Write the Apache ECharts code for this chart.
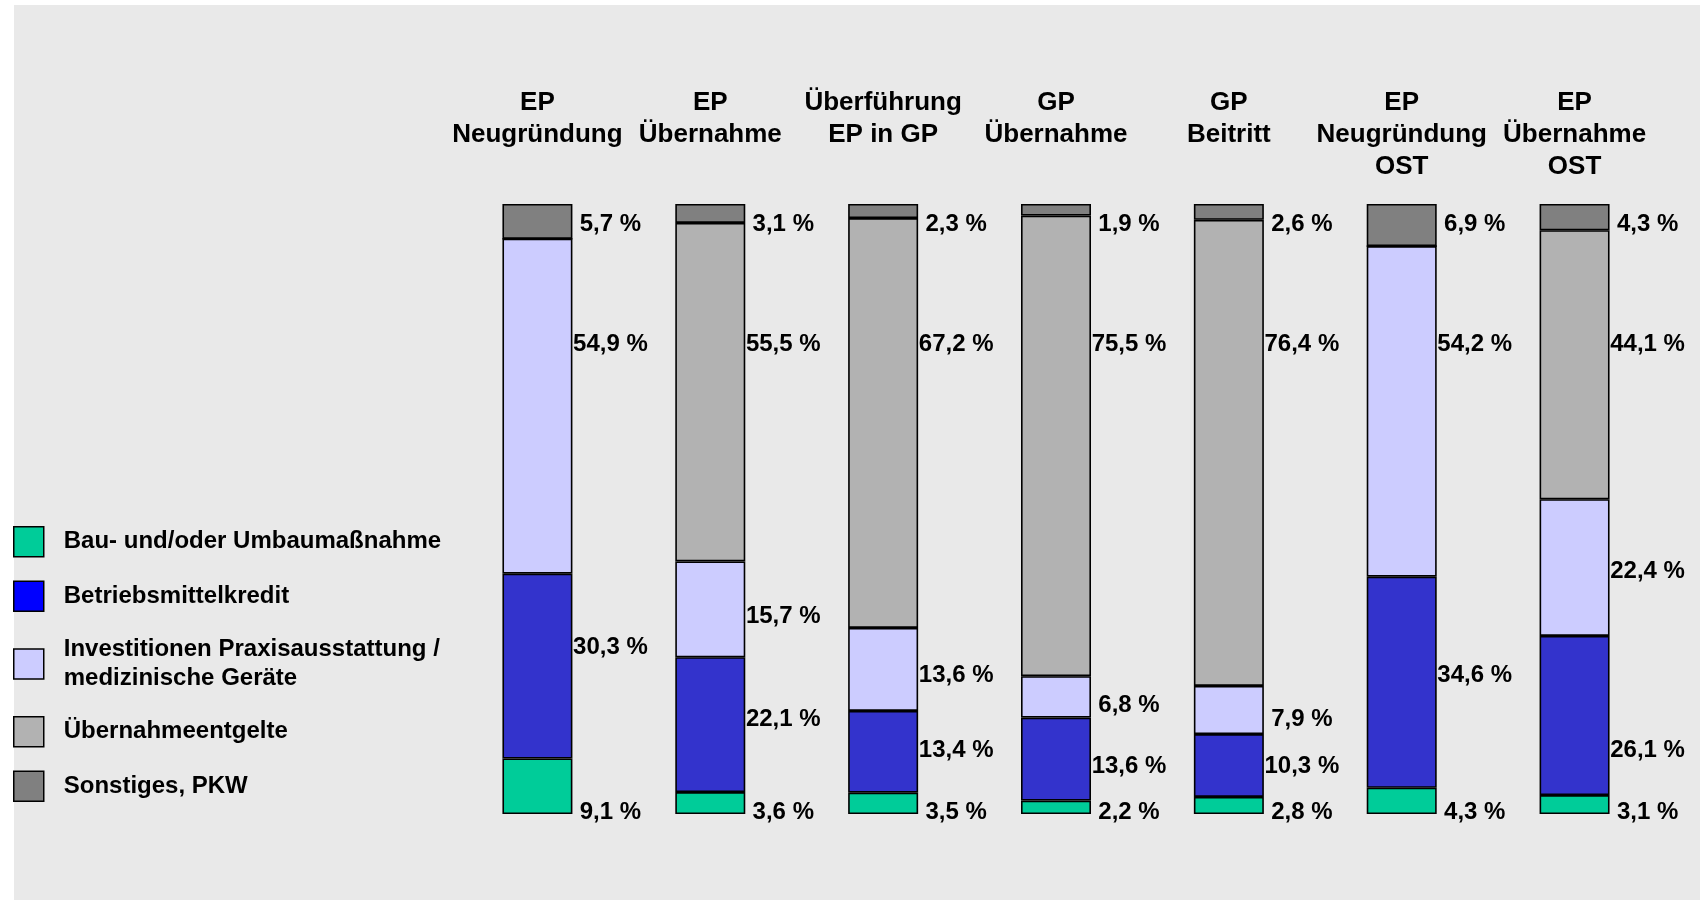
<!DOCTYPE html>
<html>
<head>
<meta charset="utf-8">
<script src="https://cdn.jsdelivr.net/npm/echarts@6/dist/echarts.min.js"></script>
<style>
  html, body { margin: 0; padding: 0; background: #ffffff; }
  #bg { position: absolute; left: 14px; top: 5px; width: 1686px; height: 895px; background: #E9E9E9; }
  #chart { position: absolute; left: 0; top: 0; width: 1700px; height: 900px; }
</style>
</head>
<body>
<div id="bg"></div>
<div id="chart"></div>
<script>
// ---- data ----
const categories = [
  'EP\nNeugründung',
  'EP\nÜbernahme',
  'Überführung\nEP in GP',
  'GP\nÜbernahme',
  'GP\nBeitritt',
  'EP\nNeugründung\nOST',
  'EP\nÜbernahme\nOST'
];
const seriesNames = [
  'Bau- und/oder Umbaumaßnahme',
  'Betriebsmittelkredit',
  'Investitionen Praxisausstattung /\nmedizinische Geräte',
  'Übernahmeentgelte',
  'Sonstiges, PKW'
];
const bauUmbau        = [9.1, 3.6, 3.5, 2.2, 2.8, 4.3, 3.1];
const betriebsmittel  = [30.3, 22.1, 13.4, 13.6, 10.3, 34.6, 26.1];
const investitionen   = [54.9, 15.7, 13.6, 6.8, 7.9, 54.2, 22.4];
const uebernahme      = [0, 55.5, 67.2, 75.5, 76.4, 0, 44.1];
const sonstiges       = [5.7, 3.1, 2.3, 1.9, 2.6, 6.9, 4.3];
const seriesValues = [bauUmbau, betriebsmittel, investitionen, uebernahme, sonstiges];

// label anchor heights (in % of the 0-100 value axis)
const labelAtBau        = [0.6, 0.6, 0.6, 0.6, 0.6, 0.6, 0.6];
const labelAtBetrieb    = [27.7, 15.8, 10.7, 8.2, 8.2, 23.1, 10.7];
const labelAtInvest     = [77.3, 32.7, 23.1, 18.1, 15.8, 77.3, 40.1];
const labelAtUebernahme = [77.3, 77.3, 77.3, 77.3, 77.3, 77.3, 77.3];
const labelAtSonstiges  = [97.0, 97.0, 97.0, 97.0, 97.0, 97.0, 97.0];
const labelAnchors = [labelAtBau, labelAtBetrieb, labelAtInvest, labelAtUebernahme, labelAtSonstiges];

// ---- styles ----
const barColors    = ['#00CC99', '#3333CC', '#CCCCFF', '#B2B2B2', '#808080'];
const legendColors = ['#00CC99', '#0000FF', '#CCCCFF', '#B2B2B2', '#808080'];
const FONT = "'Liberation Sans', Arial, sans-serif";

const fmt = v => v.toFixed(1).replace('.', ',') + ' %';

const series = [];
seriesNames.forEach((name, s) => {
  series.push({
    name: name,
    type: 'bar',
    stack: 'total',
    barWidth: 70,
    data: seriesValues[s],
    itemStyle: { color: barColors[s], borderColor: '#000', borderWidth: 1.6 },
    emphasis: { disabled: true },
    animation: false
  });
});
seriesNames.forEach((name, s) => {
  const pts = [];
  seriesValues[s].forEach((v, i) => {
    if (v > 0) pts.push([i, labelAnchors[s][i], v]);
  });
  series.push({
    name: 'lbl' + s,
    type: 'scatter',
    symbol: 'circle',
    symbolSize: 1,
    itemStyle: { color: 'rgba(0,0,0,0)' },
    silent: true,
    animation: false,
    z: 5,
    data: pts,
    label: {
      show: true,
      position: 'inside',
      offset: [73, 2],
      align: 'center',
      verticalAlign: 'middle',
      color: '#000000',
      opacity: 1,
      textBorderWidth: 0,
      textBorderColor: 'transparent',
      fontFamily: FONT,
      fontWeight: 'bold',
      fontSize: 24,
      formatter: p => fmt(p.value[2])
    }
  });
});

const chart = echarts.init(document.getElementById('chart'), null, { renderer: 'canvas' });
chart.setOption({
  backgroundColor: 'transparent',
  animation: false,
  grid: { left: 451, right: 39, top: 204, bottom: 86 },
  legend: {
    orient: 'vertical',
    left: 13,
    top: 526,
    padding: 0,
    itemWidth: 30,
    itemHeight: 30,
    itemGap: 23,
    icon: 'rect',
    selectedMode: false,
    itemStyle: { borderColor: '#000', borderWidth: 1.5 },
    textStyle: {
      fontFamily: FONT,
      fontWeight: 'bold',
      fontSize: 24,
      lineHeight: 29,
      color: '#000',
      padding: [0, 0, 0, 15]
    },
    data: seriesNames.map((n, s) => ({ name: n, itemStyle: { color: legendColors[s] } }))
  },
  xAxis: {
    type: 'category',
    position: 'top',
    data: categories,
    axisLine: { show: false },
    axisTick: { show: false },
    splitLine: { show: false },
    axisLabel: {
      interval: 0,
      margin: 117,
      verticalAlign: 'top',
      color: '#000',
      fontFamily: FONT,
      fontWeight: 'bold',
      fontSize: 26,
      lineHeight: 32
    }
  },
  yAxis: {
    type: 'value',
    min: 0,
    max: 100,
    show: false
  },
  series: series
});
</script>
</body>
</html>
